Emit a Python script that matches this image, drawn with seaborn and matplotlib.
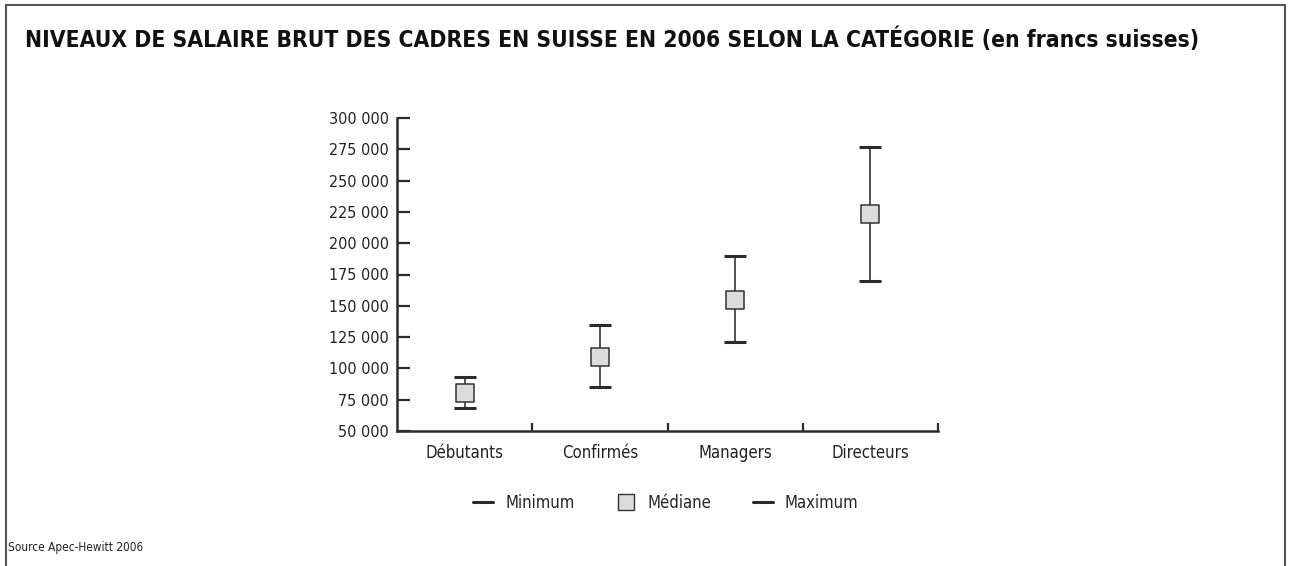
import matplotlib
matplotlib.use("Agg")
import matplotlib.pyplot as plt
from matplotlib.lines import Line2D
import seaborn as sns
import pandas as pd

categories = ["Débutants", "Confirmés", "Managers", "Directeurs"]
minimum = [68000, 85000, 121000, 170000]
mediane = [80000, 109000, 155000, 223000]
maximum = [93000, 135000, 190000, 277000]
yticks = list(range(50000, 300001, 25000))
title = "NIVEAUX DE SALAIRE BRUT DES CADRES EN SUISSE EN 2006 SELON LA CATÉGORIE (en francs suisses)"
source = "Source Apec-Hewitt 2006"
legend_labels = ["Minimum", "Médiane", "Maximum"]

df = pd.DataFrame({"cat": categories, "min": minimum, "med": mediane, "max": maximum})

sns.set_theme(style="white")
plt.rcParams["font.family"] = ["DejaVu Sans"]
plt.rcParams["font.stretch"] = "condensed"

DARK = "#2b2b2b"
fig = plt.figure(figsize=(12.91, 5.66), dpi=100)
ax = fig.add_axes([397/1291, 1-431/566, (938-397)/1291, (431-118)/566])

# whiskers
ax.vlines(range(len(categories)), df["min"], df["max"], color="#444444", lw=1.3, zorder=1)
sns.scatterplot(data=df, x="cat", y="min", marker="_", s=230, color=DARK,
                linewidth=2.2, ax=ax, zorder=2, legend=False)
sns.scatterplot(data=df, x="cat", y="max", marker="_", s=230, color=DARK,
                linewidth=2.2, ax=ax, zorder=2, legend=False)
sns.scatterplot(data=df, x="cat", y="med", marker="s", s=150, color="#dcdcdc",
                edgecolor="#333333", linewidth=1.1, ax=ax, zorder=3, legend=False)

ax.set_xlim(-0.5, len(categories) - 0.5)
ax.set_ylim(50000, 300000)
ax.set_yticks(yticks)
ax.set_yticklabels([f"{v:,}".replace(",", " ") for v in yticks], fontsize=11.5, color="#222222")
ax.set_xticks(range(len(categories)))
ax.set_xticklabels(categories, fontsize=12, color="#222222")
ax.set_xticks([i + 0.5 for i in range(len(categories))], minor=True)
ax.tick_params(axis="x", which="major", length=0, pad=9)
ax.tick_params(axis="x", which="minor", direction="in", length=6, width=1.6, color=DARK, bottom=True)
ax.tick_params(axis="y", which="major", direction="in", length=9, width=1.6, color=DARK, left=True, pad=6)
ax.set_xlabel("")
ax.set_ylabel("")
for s in ["top", "right"]:
    ax.spines[s].set_visible(False)
for s in ["left", "bottom"]:
    ax.spines[s].set_color(DARK)
    ax.spines[s].set_linewidth(1.8)

# frame
fig.add_artist(Line2D([6/1291, 6/1291], [0, 1-5/566], color="#555555", lw=1.5))
fig.add_artist(Line2D([6/1291, 1285/1291], [1-5/566, 1-5/566], color="#555555", lw=1.5))
fig.add_artist(Line2D([1285/1291, 1285/1291], [0, 1-5/566], color="#555555", lw=1.5))

fig.text(25/1291, 1-40/566, title, fontsize=16.4, fontweight="bold", va="center", ha="left", color="#111111")
fig.text(8/1291, 1-547/566, source, fontsize=8.5, va="center", ha="left", color="#222222")

handles = [
    Line2D([], [], color=DARK, lw=2.2, marker=None),
    Line2D([], [], ls="none", marker="s", markersize=11, markerfacecolor="#dcdcdc", markeredgecolor="#333333"),
    Line2D([], [], color=DARK, lw=2.2, marker=None),
]
fig.legend(handles, legend_labels, loc="center", bbox_to_anchor=(666/1291, 1-503/566), ncol=3,
           frameon=False, fontsize=12, handlelength=1.2, columnspacing=2.5, handletextpad=0.7)

fig.savefig("out.png", dpi=100)
